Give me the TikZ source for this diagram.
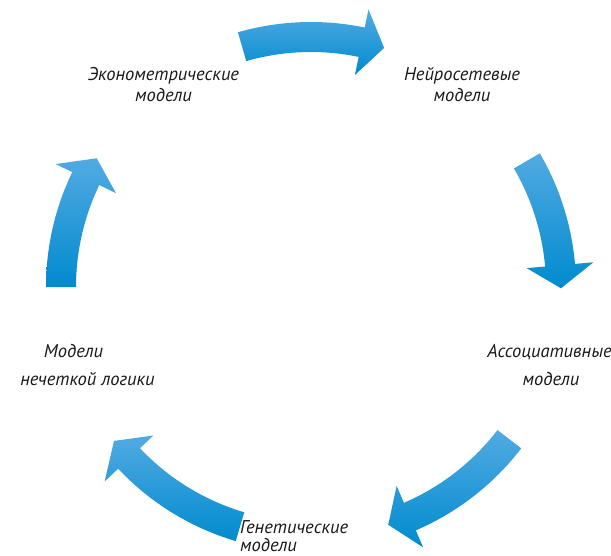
\documentclass[tikz,border=0pt]{standalone}
\usepackage{fontspec}
\setmainfont{PT Sans}
\usetikzlibrary{calc}
\definecolor{arrLight}{HTML}{52AAE2}
\definecolor{arrMid}{HTML}{049BDB}
\definecolor{arrDark}{HTML}{008BCE}
\tikzset{
  arrowshade/.style={top color=arrLight, middle color=arrMid, bottom color=arrDark, draw=none},
  lbl/.style={font=\fontsize{18.5}{21}\selectfont\itshape, inner sep=0pt, text=black!90},
}
\newcommand\cycarrow[2]{%
  \pgfmathsetmacro\tb{#2+5.3}%
  \shade[arrowshade] ($(C)+(#1:265pt)$) arc[start angle=#1, end angle=\tb, radius=265pt]
     -- ($(C)+(\tb:283.5pt)$) -- ($(C)+(#2:250pt)$) -- ($(C)+(\tb:216.5pt)$) -- ($(C)+(\tb:235pt)$)
     arc[start angle=\tb, end angle=#1, radius=235pt] -- cycle;}
\begin{document}
\begin{tikzpicture}[x=1pt,y=1pt]
\useasboundingbox (0,0) rectangle (611,-555);
\coordinate (C) at (311,-287);
% arrows (clockwise)
\cycarrow{106}{73}
\cycarrow{30.3}{-0.3}
\cycarrow{-37.5}{-72}
\cycarrow{-106.5}{-142}
\cycarrow{180}{149}
% labels
\node[lbl, anchor=base] (e1) at (163.5,-80) {Эконометрические};
\node[lbl, anchor=base] (e2) at (163.5,-101) {модели};
\node[lbl, anchor=base] (n1) at (462,-80) {Нейросетевые};
\node[lbl, anchor=base] (n2) at (462,-101) {модели};
\node[lbl, anchor=base] (a1) at (549.5,-357) {Ассоциативные};
\node[lbl, anchor=base] (a2) at (551,-385) {модели};
\node[lbl, anchor=base west] (g1) at (240,-533) {Генетические};
\node[lbl, anchor=base west] (g2) at (240,-551) {модели};
\node[lbl, anchor=base] (m1) at (73.5,-357) {Модели};
\node[lbl, anchor=base] (m2) at (87.5,-385) {нечеткой логики};
\end{tikzpicture}
\end{document}
